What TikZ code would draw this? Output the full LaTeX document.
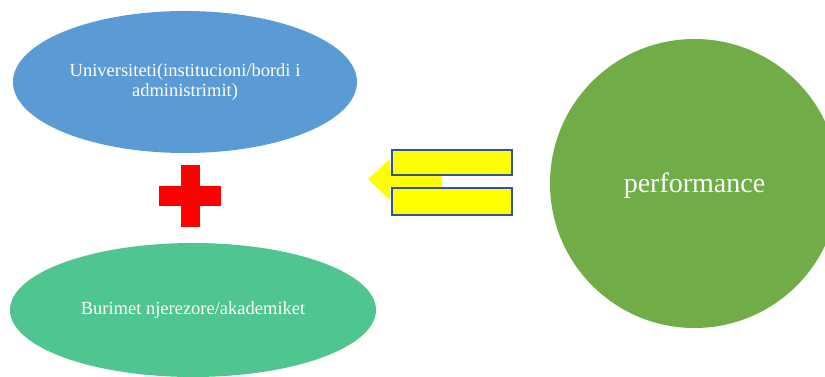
\documentclass[tikz,border=0pt]{standalone}
\usepackage{fontspec}
\setmainfont{Liberation Serif}
\usetikzlibrary{shapes.geometric,positioning}
\definecolor{uniblue}{HTML}{5B9BD5}
\definecolor{hrgreen}{HTML}{4FC58F}
\definecolor{perfgreen}{HTML}{70AD47}
\definecolor{barborder}{HTML}{2F5597}
\definecolor{baryellow}{RGB}{255,255,0}
\definecolor{plusred}{RGB}{255,0,0}
\tikzstyle{oval} = [ellipse, inner sep=0pt, text=white, align=center, font=\fontsize{18.5}{20}\selectfont]
\tikzstyle{bar} = [draw=barborder, line width=2pt, fill=baryellow]
\tikzstyle{plus} = [fill=plusred]

\begin{document}
\begin{tikzpicture}[x=1pt, y=-1pt]
  \useasboundingbox (0,0) rectangle (825,377);
  \clip (0,0) rectangle (825,377);

  % the two ovals on the left
  \node[oval, fill=uniblue, minimum width=344pt, minimum height=142pt] (uni) at (185,82)
    {Universiteti(institucioni/bordi i\\administrimit)};
  \node[oval, fill=hrgreen, minimum width=366pt, minimum height=134pt] (hr) at (193,310)
    {Burimet njerezore/akademiket};

  % red cross between them
  \fill[plus] (181,165) rectangle (200,227);
  \fill[plus] (159,186) rectangle (221,206);

  % big circle on the right
  \node[circle, fill=perfgreen, minimum size=289pt, inner sep=0pt] (perf) at (694.5,183.5) {};
  \node[text=white, font=\fontsize{28}{32}\selectfont] (perflabel) at (694.5,186) {performance};

  % arrow pointing left, behind the equal sign
  \fill[baryellow] (368,179) -- (390,159) -- (390,170) -- (442,170) -- (442,188)
    -- (390,188) -- (390,200) -- cycle;
  \node[bar, minimum width=120pt, minimum height=25pt, inner sep=0pt] (eqtop) at (451.5,163) {};
  \node[bar, minimum width=120pt, minimum height=26pt, inner sep=0pt] (eqbot) at (451.5,201.5) {};

\end{tikzpicture}
\end{document}
